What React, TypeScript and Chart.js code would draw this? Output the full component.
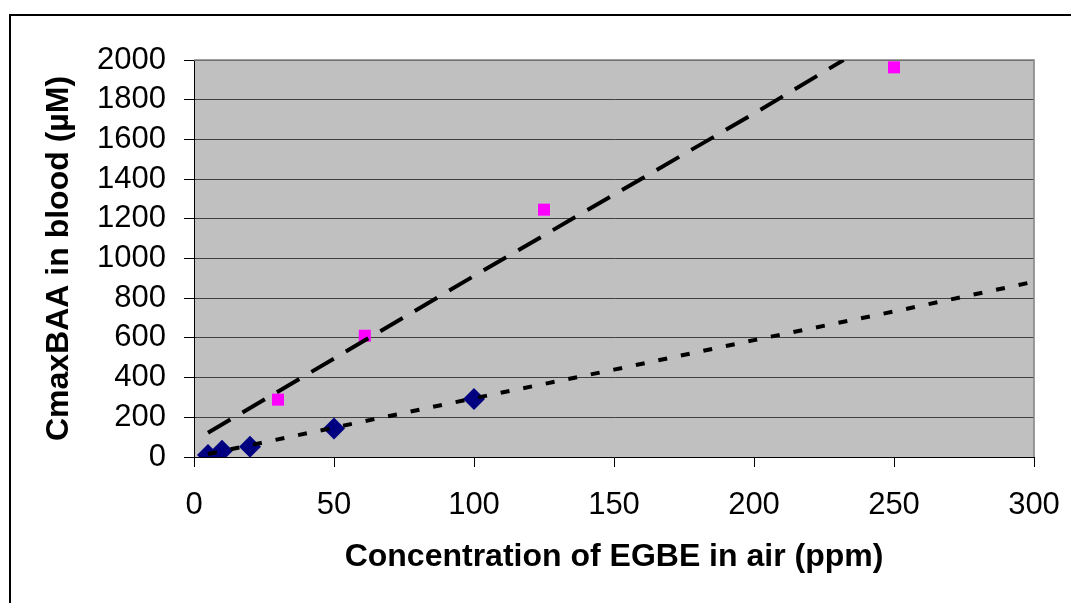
import React, { useEffect, useRef } from "react";
import { Chart, registerables } from "chart.js";

Chart.register(...registerables);

const xTickValues = [0, 50, 100, 150, 200, 250, 300];
const yTickValues = [0, 200, 400, 600, 800, 1000, 1200, 1400, 1600, 1800, 2000];

const lowMeasuredX = [5, 10, 20, 50, 100];
const lowMeasuredY = [10, 32, 52, 143, 292];

const highMeasuredX = [30, 61, 125, 250];
const highMeasuredY = [289, 611, 1246, 1963];

const highModelX = [5, 50, 100, 150, 200, 232];
const highModelY = [122, 496, 912, 1322, 1730, 2000];

const lowModelX = [5, 50, 100, 150, 200, 250, 300];
const lowModelY = [15, 148, 296, 440, 589, 733, 883];

const xTitle = "Concentration of EGBE in air (ppm)";
const yTitle = "CmaxBAA in blood (µM)";

const FONT = "'Liberation Sans', Arial, Helvetica, sans-serif";

function pts(xs: number[], ys: number[]) {
  return xs.map((x, i) => ({ x, y: ys[i] }));
}

const framePlugin = {
  id: "framePlugin",
  beforeDraw(chart: any) {
    const { ctx, chartArea } = chart;
    ctx.save();
    ctx.fillStyle = "#ffffff";
    ctx.fillRect(0, 0, chart.width, chart.height);
    ctx.fillStyle = "#000000";
    ctx.fillRect(9, 14, 2, chart.height);
    ctx.fillRect(9, 14, chart.width, 2);
    ctx.fillStyle = "#C0C0C0";
    ctx.fillRect(chartArea.left, chartArea.top, chartArea.right - chartArea.left, chartArea.bottom - chartArea.top);
    ctx.restore();
  },
  beforeDatasetsDraw(chart: any) {
    const { ctx, chartArea } = chart;
    ctx.save();
    ctx.strokeStyle = "#808080";
    ctx.lineWidth = 1.5;
    ctx.beginPath();
    ctx.moveTo(chartArea.left, chartArea.top);
    ctx.lineTo(chartArea.right, chartArea.top);
    ctx.lineTo(chartArea.right, chartArea.bottom);
    ctx.stroke();
    ctx.restore();
  },
};

export default function App() {
  const canvasRef = useRef<HTMLCanvasElement | null>(null);

  useEffect(() => {
    if (!canvasRef.current) return;
    const chart = new Chart(canvasRef.current, {
      type: "scatter",
      data: {
        datasets: [
          {
            label: "model high",
            data: pts(highModelX, highModelY),
            showLine: true,
            borderColor: "#000000",
            borderWidth: 4,
            borderDash: [26, 14],
            borderCapStyle: "butt",
            pointRadius: 0,
            pointHoverRadius: 0,
            fill: false,
          },
          {
            label: "model low",
            data: pts(lowModelX, lowModelY),
            showLine: true,
            borderColor: "#000000",
            borderWidth: 4,
            borderDash: [9, 14],
            borderCapStyle: "butt",
            pointRadius: 0,
            pointHoverRadius: 0,
            fill: false,
          },
          {
            label: "measured high",
            data: pts(highMeasuredX, highMeasuredY),
            pointStyle: "rect",
            pointRadius: 8.5,
            backgroundColor: "#FF00FF",
            borderColor: "#FF00FF",
            borderWidth: 0,
          },
          {
            label: "measured low",
            data: pts(lowMeasuredX, lowMeasuredY),
            pointStyle: "rectRot",
            pointRadius: 11,
            backgroundColor: "#000080",
            borderColor: "#000080",
            borderWidth: 0,
          },
        ],
      },
      options: {
        animation: false,
        responsive: true,
        maintainAspectRatio: false,
        events: [],
        layout: { padding: { left: 0, top: 60, right: 37, bottom: 0 } },
        plugins: {
          legend: { display: false },
          tooltip: { enabled: false },
          title: { display: false },
        },
        scales: {
          x: {
            type: "linear",
            min: 0,
            max: 300,
            afterFit: (scale: any) => {
              scale.height = 146;
              scale.paddingLeft = 0;
              scale.paddingRight = 0;
            },
            afterBuildTicks: (scale: any) => {
              scale.ticks = xTickValues.map((v) => ({ value: v }));
            },
            grid: {
              drawOnChartArea: false,
              drawTicks: true,
              tickLength: 10,
              tickColor: "#000000",
              lineWidth: 1,
            },
            border: { display: true, color: "#000000", width: 1 },
            ticks: {
              color: "#000000",
              padding: 20,
              font: { family: FONT, size: 31 },
              maxRotation: 0,
              autoSkip: false,
              callback: (v: any) => String(v),
            },
            title: {
              display: true,
              text: xTitle,
              color: "#000000",
              font: { family: FONT, size: 32, weight: "bold" },
              padding: { top: 0, bottom: 27 },
            },
          },
          y: {
            type: "linear",
            min: 0,
            max: 2000,
            afterFit: (scale: any) => {
              scale.width = 194;
              scale.paddingTop = 0;
              scale.paddingBottom = 0;
            },
            afterBuildTicks: (scale: any) => {
              scale.ticks = yTickValues.map((v) => ({ value: v }));
            },
            grid: {
              color: "#404040",
              lineWidth: 1,
              drawTicks: true,
              tickLength: 10,
              tickColor: "#000000",
            },
            border: { display: true, color: "#000000", width: 1 },
            ticks: {
              color: "#000000",
              padding: 18,
              font: { family: FONT, size: 31 },
              autoSkip: false,
              callback: (v: any) => String(v),
            },
            title: {
              display: true,
              text: yTitle,
              color: "#000000",
              font: { family: FONT, size: 32, weight: "bold" },
              padding: { top: 40, bottom: 0 },
            },
          },
        },
      },
      plugins: [framePlugin],
    } as any);
    return () => chart.destroy();
  }, []);

  return (
    <div
      style={{
        position: "fixed",
        left: 0,
        top: 0,
        width: 1071,
        height: 603,
        background: "#ffffff",
        overflow: "hidden",
      }}
    >
      <canvas ref={canvasRef} />
    </div>
  );
}
